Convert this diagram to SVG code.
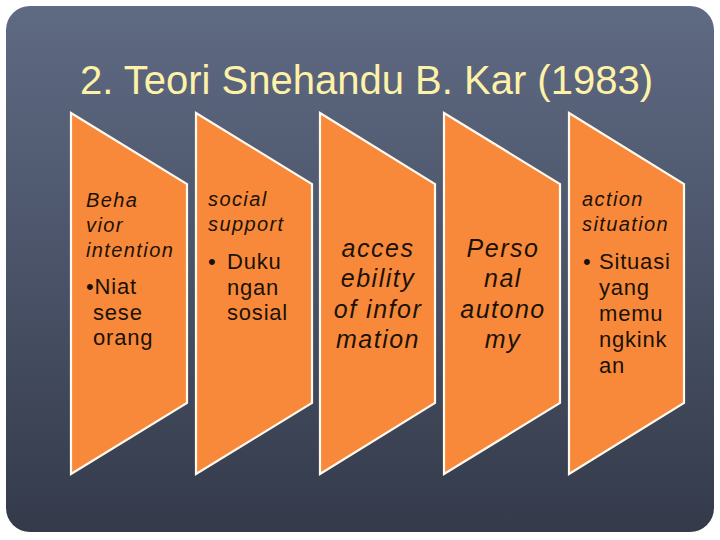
<svg xmlns="http://www.w3.org/2000/svg" width="720" height="540" viewBox="0 0 720 540">
<defs>
<linearGradient id="bg" x1="0" y1="0" x2="0" y2="1">
<stop offset="0" stop-color="#5f6a83"/>
<stop offset="0.5" stop-color="#4a5368"/>
<stop offset="1" stop-color="#343a4a"/>
</linearGradient>
</defs>
<style>
.sh{fill:#f9893a;stroke:#fffaf0;stroke-width:2.2;stroke-linejoin:miter}
.t{font-family:"Liberation Sans",Arial,sans-serif;fill:#1a1208}
.hd{font-size:20px;font-style:italic;letter-spacing:1.4px}
.bl{font-size:22px;letter-spacing:0.8px}
.md{font-size:25px;font-style:italic;letter-spacing:1.5px;text-anchor:middle}
.title{font-family:"Liberation Sans",Arial,sans-serif;font-size:40px;fill:#fdf2a7}
</style>
<rect x="0" y="0" width="720" height="540" fill="#ffffff"/>
<rect x="6" y="6" width="708" height="526" rx="24" ry="24" fill="url(#bg)"/>
<text class="title" x="80" y="94">2. Teori Snehandu B. Kar (1983)</text>
<g id="connectors"></g>
<g id="node1">
<polygon class="sh" points="71,113 187,184 187,403 71,474"/>
<text class="t hd" x="86" y="206.5">Beha</text>
<text class="t hd" x="86" y="231.5">vior</text>
<text class="t hd" x="86" y="256.5">intention</text>
<text class="t bl" x="86" y="294">•Niat</text>
<text class="t bl" x="93" y="319.5">sese</text>
<text class="t bl" x="93" y="345">orang</text>
</g>
<g id="node2">
<polygon class="sh" points="196,113 312,184 312,403 196,474"/>
<text class="t hd" x="208" y="206">social</text>
<text class="t hd" x="208" y="231">support</text>
<text class="t bl" x="208" y="269">•</text>
<text class="t bl" x="227" y="269">Duku</text>
<text class="t bl" x="227" y="294.5">ngan</text>
<text class="t bl" x="227" y="320">sosial</text>
</g>
<g id="node3">
<polygon class="sh" points="320,113 435,184 435,403 320,474"/>
<text class="t md" x="378" y="256.5">acces</text>
<text class="t md" x="378" y="287">ebility</text>
<text class="t md" x="378" y="317.5">of infor</text>
<text class="t md" x="378" y="348">mation</text>
</g>
<g id="node4">
<polygon class="sh" points="444,113 560,184 560,403 444,474"/>
<text class="t md" x="503" y="256.5">Perso</text>
<text class="t md" x="503" y="287">nal</text>
<text class="t md" x="503" y="317.5">autono</text>
<text class="t md" x="503" y="348">my</text>
</g>
<g id="node5">
<polygon class="sh" points="569,113 684,184 684,403 569,474"/>
<text class="t hd" x="582" y="206">action</text>
<text class="t hd" x="582" y="231">situation</text>
<text class="t bl" x="583" y="269">•</text>
<text class="t bl" x="599" y="269">Situasi</text>
<text class="t bl" x="599" y="295">yang</text>
<text class="t bl" x="599" y="321">memu</text>
<text class="t bl" x="599" y="347">ngkink</text>
<text class="t bl" x="599" y="373">an</text>
</g>
</svg>
